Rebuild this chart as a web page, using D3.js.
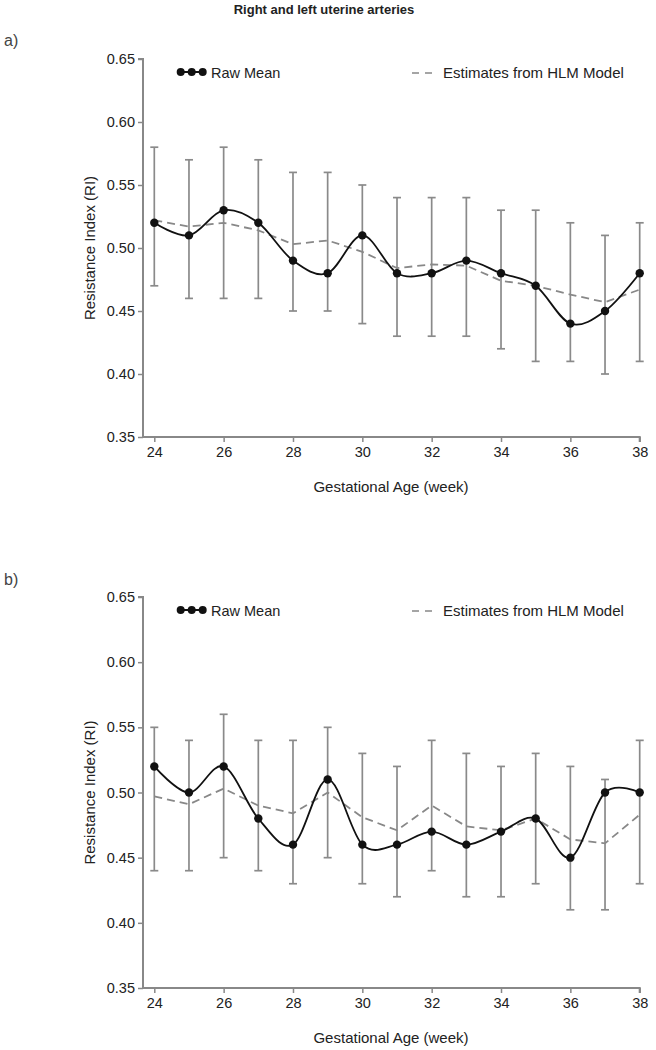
<!DOCTYPE html>
<html><head><meta charset="utf-8">
<script src="https://cdn.jsdelivr.net/npm/d3@7"></script>
<style>body{margin:0;background:#fff}svg{display:block}text{font-family:"Liberation Sans",Arial,sans-serif;fill:#222}</style>
</head><body>
<script>
const weeks = [24,25,26,27,28,29,30,31,32,33,34,35,36,37,38];
const yTicks = [0.35,0.40,0.45,0.50,0.55,0.60,0.65];
const xTicks = [24,26,28,30,32,34,36,38];

const aRaw   = [0.52,0.51,0.53,0.52,0.49,0.48,0.51,0.48,0.48,0.49,0.48,0.47,0.44,0.45,0.48];
const aUpper = [0.58,0.57,0.58,0.57,0.56,0.56,0.55,0.54,0.54,0.54,0.53,0.53,0.52,0.51,0.52];
const aLower = [0.47,0.46,0.46,0.46,0.45,0.45,0.44,0.43,0.43,0.43,0.42,0.41,0.41,0.40,0.41];
const aHLM   = [0.522,0.517,0.520,0.514,0.503,0.506,0.497,0.484,0.487,0.486,0.474,0.470,0.463,0.457,0.467];

const bRaw   = [0.52,0.50,0.52,0.48,0.46,0.51,0.46,0.46,0.47,0.46,0.47,0.48,0.45,0.50,0.50];
const bUpper = [0.55,0.54,0.56,0.54,0.54,0.55,0.53,0.52,0.54,0.53,0.52,0.53,0.52,0.51,0.54];
const bLower = [0.44,0.44,0.45,0.44,0.43,0.45,0.43,0.42,0.44,0.42,0.42,0.43,0.41,0.41,0.43];
const bHLM   = [0.497,0.491,0.503,0.490,0.484,0.500,0.481,0.471,0.490,0.474,0.471,0.480,0.464,0.461,0.483];

const svg = d3.select("body").append("svg").attr("width",656).attr("height",1050);

svg.append("text").attr("x",324).attr("y",14).attr("text-anchor","middle")
  .style("font-size","13px").style("font-weight","bold").text("Right and left uterine arteries");

const x = d3.scaleLinear().domain([24,38]).range([154.3,639.7]);
const axisColor = "#888";

function panel(label, labelY, top, bottom, raw, up, lo, hlm){
  const y = d3.scaleLinear().domain([0.35,0.65]).range([bottom, top]);
  svg.append("text").attr("x",4).attr("y",labelY).style("font-size","16px").style("fill","#444").text(label);
  const g = svg.append("g");
  const ya = g.append("g").attr("transform","translate(143,0)")
    .call(d3.axisLeft(y).tickValues(yTicks).tickFormat(d3.format(".2f")).tickSize(5).tickPadding(3));
  const xa = g.append("g").attr("transform",`translate(0,${bottom})`)
    .call(d3.axisBottom(x).tickValues(xTicks).tickFormat(d3.format("d")).tickSize(5).tickPadding(5));
  [ya,xa].forEach(a=>{
    a.select(".domain").attr("stroke",axisColor).attr("stroke-width",2);
    a.selectAll(".tick line").attr("stroke",axisColor).attr("stroke-width",1.5);
    a.selectAll(".tick text").style("font-size","14.5px").style("fill","#222").attr("font-family",null);
  });
  xa.select(".domain").attr("d",`M143,0V0H${x(38)}V5`);
  ya.select(".domain").attr("d",`M-5,${y(0.65)}H0V${y(0.35)}H0`);
  svg.append("text").attr("transform",`translate(95,${(top+bottom)/2}) rotate(-90)`)
    .attr("text-anchor","middle").style("font-size","15px").text("Resistance Index (RI)");
  svg.append("text").attr("x",391).attr("y",bottom+55).attr("text-anchor","middle")
    .style("font-size","15px").text("Gestational Age (week)");

  const data = weeks.map((w,i)=>({w, r:raw[i], u:up[i], l:lo[i], h:hlm[i]}));
  const eb = g.append("g").attr("stroke","#8a8a8a").attr("stroke-width",1.7);
  eb.selectAll("line.v").data(data).join("line").attr("x1",d=>x(d.w)).attr("x2",d=>x(d.w))
    .attr("y1",d=>y(d.u)).attr("y2",d=>y(d.l));
  eb.selectAll("line.cu").data(data).join("line").attr("x1",d=>x(d.w)-4).attr("x2",d=>x(d.w)+4)
    .attr("y1",d=>y(d.u)).attr("y2",d=>y(d.u));
  eb.selectAll("line.cl").data(data).join("line").attr("x1",d=>x(d.w)-4).attr("x2",d=>x(d.w)+4)
    .attr("y1",d=>y(d.l)).attr("y2",d=>y(d.l));
  g.append("path").datum(data).attr("fill","none").attr("stroke","#888").attr("stroke-width",1.8)
    .attr("stroke-dasharray","8,5")
    .attr("d",d3.line().x(d=>x(d.w)).y(d=>y(d.h)));
  g.append("path").datum(data).attr("fill","none").attr("stroke","#111").attr("stroke-width",1.8)
    .attr("d",d3.line().curve(d3.curveCardinal.tension(0)).x(d=>x(d.w)).y(d=>y(d.r)));
  g.selectAll("circle.pt").data(data).join("circle").attr("cx",d=>x(d.w)).attr("cy",d=>y(d.r))
    .attr("r",4.2).attr("fill","#111");

  const ly = top + 13;
  const lg = svg.append("g");
  lg.append("line").attr("x1",180.7).attr("x2",202.7).attr("y1",ly).attr("y2",ly).attr("stroke","#111").attr("stroke-width",2);
  [180.7,191.7,202.7].forEach(cx=>lg.append("circle").attr("cx",cx).attr("cy",ly).attr("r",4).attr("fill","#111"));
  lg.append("text").attr("x",211).attr("y",ly+6).style("font-size","14.5px").text("Raw Mean");
  lg.append("line").attr("x1",412).attr("x2",432).attr("y1",ly+1).attr("y2",ly+1).attr("stroke","#888")
    .attr("stroke-width",1.5).attr("stroke-dasharray","7,6");
  lg.append("text").attr("x",443).attr("y",ly+6).style("font-size","15px").text("Estimates from HLM Model");
}

panel("a)", 46, 59, 437, aRaw, aUpper, aLower, aHLM);
panel("b)", 585, 597, 988, bRaw, bUpper, bLower, bHLM);
</script>
</body></html>
